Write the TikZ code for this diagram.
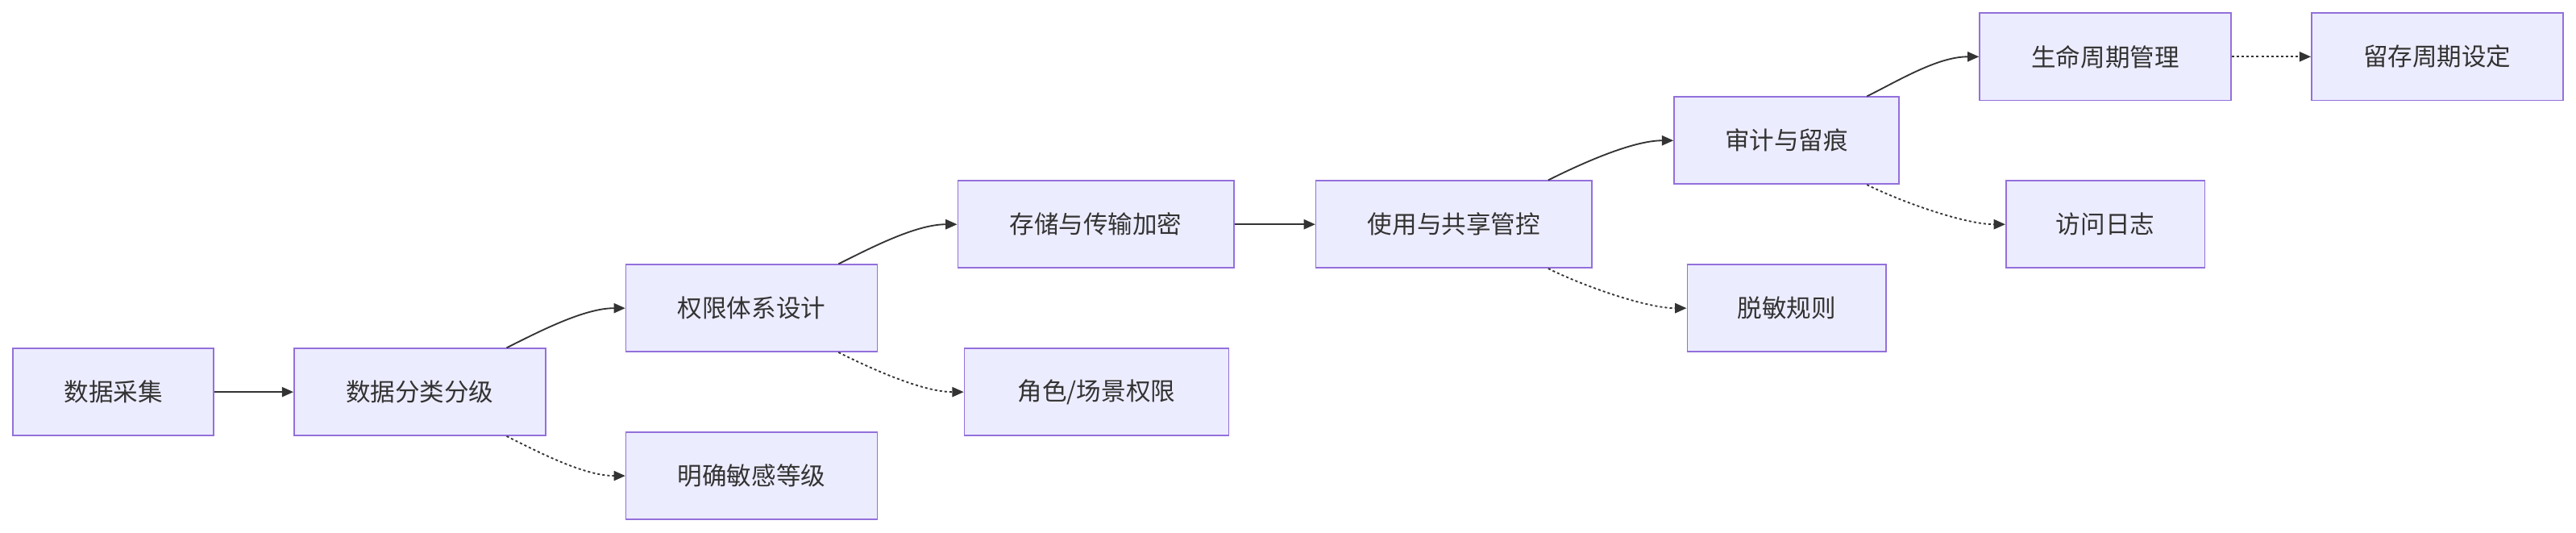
\documentclass[tikz,border=0pt]{standalone}
\usepackage{fontspec}
\setmainfont{Noto Sans CJK SC}
\usetikzlibrary{calc,arrows.meta}
\definecolor{nfill}{HTML}{ECECFF}
\definecolor{nline}{HTML}{9370DB}
\definecolor{eline}{HTML}{333333}
\tikzset{
 box/.style={draw=nline,fill=nfill,line width=0.8pt,inner sep=0pt,font=\fontsize{15}{18}\selectfont,text=eline},
 arr/.style={draw=eline,line width=0.9pt,-{Triangle[length=7pt,width=6pt]}},
 dot/.style={arr,dash pattern=on 1.5pt off 1.5pt},
}
\newcommand{\bx}[6]{\node[box,minimum width=#4-#2,minimum height=#5-#3] (#1) at ({(#2+#4)/2},{(#3+#5)/2}) {#6};}
\begin{document}
\begin{tikzpicture}[x=1pt,y=-1pt]
\useasboundingbox (0,0) rectangle (1568,324);
\bx{a}{8}{212}{130}{265}{数据采集}
\bx{b}{179}{212}{332}{265}{数据分类分级}
\bx{c}{381}{161}{534}{214}{权限体系设计}
\bx{d}{381}{263}{534}{316}{明确敏感等级}
\bx{e}{583}{110}{751}{163}{存储与传输加密}
\bx{f}{587}{212}{748}{265}{角色/场景权限}
\bx{g}{801}{110}{969}{163}{使用与共享管控}
\bx{h}{1019}{59}{1156}{112}{审计与留痕}
\bx{i}{1027}{161}{1148}{214}{脱敏规则}
\bx{j}{1205}{8}{1358}{61}{生命周期管理}
\bx{k}{1221}{110}{1342}{163}{访问日志}
\bx{l}{1407}{8}{1560}{61}{留存周期设定}
\draw[arr] (a) -- (b);
\draw[arr] (e) -- (g);
\draw[dot] (j) -- (l);
\draw[arr] ($(b.north east)+(-24,0)$) .. controls +(20,-10) and +(-25,0) .. (c.west);
\draw[dot] ($(b.south east)+(-24,0)$) .. controls +(20,10) and +(-25,0) .. (d.west);
\draw[arr] ($(c.north east)+(-24,0)$) .. controls +(20,-10) and +(-25,0) .. (e.west);
\draw[dot] ($(c.south east)+(-24,0)$) .. controls +(20,10) and +(-25,0) .. (f.west);
\draw[arr] ($(g.north east)+(-27,0)$) .. controls +(20,-10) and +(-25,0) .. (h.west);
\draw[dot] ($(g.south east)+(-27,0)$) .. controls +(20,10) and +(-25,0) .. (i.west);
\draw[arr] ($(h.north east)+(-20,0)$) .. controls +(20,-10) and +(-25,0) .. (j.west);
\draw[dot] ($(h.south east)+(-20,0)$) .. controls +(20,10) and +(-25,0) .. (k.west);
\end{tikzpicture}
\end{document}
